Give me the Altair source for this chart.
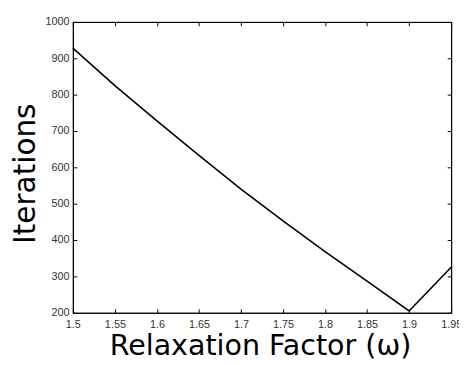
import altair as alt
import pandas as pd

omega = [1.50, 1.55, 1.60, 1.65, 1.70, 1.75, 1.80, 1.85, 1.90, 1.95]
iterations = [928, 825, 728, 633, 540, 453, 368, 287, 205, 325]

x_ticks = [1.5, 1.55, 1.6, 1.65, 1.7, 1.75, 1.8, 1.85, 1.9, 1.95]
y_ticks = [200, 300, 400, 500, 600, 700, 800, 900, 1000]

df = pd.DataFrame({"omega": omega, "iterations": iterations})

W, H = 385, 296
INWARD = alt.ExprRef(expr="-4")
xscale = alt.Scale(domain=[1.5, 1.95], nice=False, zero=False)
yscale = alt.Scale(domain=[200, 1000], nice=False, zero=False)

main = alt.Chart(df).mark_line(color="black", strokeWidth=1.6).encode(
    x=alt.X("omega:Q", scale=xscale, axis=alt.Axis(
        orient="bottom", values=x_ticks, format="~g", ticks=True, tickSize=INWARD,
        tickColor="black", tickWidth=1, domain=True,
        domainColor="black", domainWidth=1, grid=False,
        labelFont="Liberation Sans", labelFontSize=11, labelColor="#333", labelPadding=10,
        labelFlush=False, labelOverlap=False,
        title="Relaxation Factor (ω)", titleFont="DejaVu Sans", titleFontSize=29,
        titleFontWeight="normal", titleColor="black", titleX=W / 2 - 2, titleY=42,
        titleBaseline="alphabetic", titleAlign="center")),
    y=alt.Y("iterations:Q", scale=yscale, axis=alt.Axis(
        orient="left", values=y_ticks, format="d", ticks=True, tickSize=INWARD,
        tickColor="black", tickWidth=1, domain=True,
        domainColor="black", domainWidth=1, grid=False,
        labelFont="Liberation Sans", labelFontSize=11, labelColor="#333", labelPadding=8,
        labelFlush=False, labelOverlap=False,
        title="Iterations", titleFont="DejaVu Sans", titleFontSize=30,
        titleFontWeight="normal", titleColor="black", titleX=-48, titleY=H / 2 + 6,
        titleAngle=270, titleBaseline="middle", titleAlign="center")),
)

mirror = alt.Chart(df).mark_line(opacity=0).encode(
    x=alt.X("omega:Q", scale=xscale, axis=alt.Axis(
        orient="top", values=x_ticks, ticks=True, tickSize=INWARD, tickColor="black",
        tickWidth=1, labels=False, domain=True, domainColor="black", domainWidth=1,
        grid=False, title=None)),
    y=alt.Y("iterations:Q", scale=yscale, axis=alt.Axis(
        orient="right", values=y_ticks, ticks=True, tickSize=INWARD, tickColor="black",
        tickWidth=1, labels=False, domain=True, domainColor="black", domainWidth=1,
        grid=False, title=None)),
)

chart = alt.layer(main, mirror).resolve_axis(
    x="independent", y="independent"
).properties(
    width=W, height=H,
    autosize=alt.AutoSizeParams(type="none"),
    padding={"left": 66, "top": 11, "right": 8, "bottom": 50},
    background="white",
).configure_view(stroke="black", strokeWidth=1)

chart.save("out.html", embed_options={"renderer": "svg", "actions": False})
